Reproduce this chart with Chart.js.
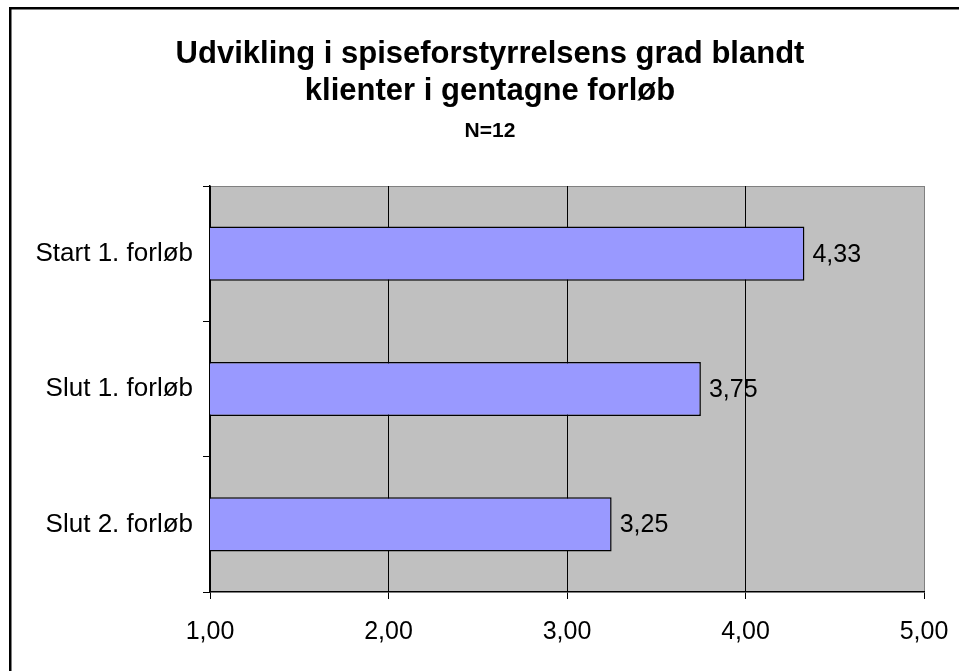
<!DOCTYPE html>
<html>
<head>
<meta charset="utf-8">
<script src="https://cdn.jsdelivr.net/npm/chart.js@4/dist/chart.umd.min.js"></script>
<style>
  body { margin: 0; background: #fff; }
  #wrap { width: 959px; height: 671px; }
</style>
</head>
<body>
<div id="wrap"><canvas id="myChart" width="959" height="671"></canvas></div>
<script>
var categories = ['Start 1. forløb', 'Slut 1. forløb', 'Slut 2. forløb'];
var values = [4.33, 3.75, 3.25];
var titleLines = ['Udvikling i spiseforstyrrelsens grad blandt', 'klienter i gentagne forløb'];
var subtitleText = 'N=12';
var xMin = 1, xMax = 5;

var FONT = '"Liberation Sans", Arial, sans-serif';

function fmt(v) {
    return v.toFixed(2).replace('.', ',');
}

// gray plot area + outer frame
var backdrop = {
    id: 'backdrop',
    beforeDraw: function (chart) {
        var c = chart.ctx, a = chart.chartArea;
        c.save();
        c.fillStyle = '#000';
        c.fillRect(9, 7, 2.5, chart.height);
        c.fillRect(9, 7, chart.width, 2.5);
        c.fillStyle = '#c0c0c0';
        c.fillRect(a.left, a.top, a.right - a.left, a.bottom - a.top);
        c.strokeStyle = '#808080';
        c.lineWidth = 1;
        c.beginPath();
        c.moveTo(a.left, a.top + 0.5);
        c.lineTo(a.right + 0.5, a.top + 0.5);
        c.lineTo(a.right + 0.5, a.bottom);
        c.stroke();
        c.restore();
    }
};

// title block, centred on the frame rather than the canvas
var titleBlock = {
    id: 'titleBlock',
    afterDraw: function (chart) {
        var c = chart.ctx;
        c.save();
        c.fillStyle = '#000';
        c.textAlign = 'center';
        c.textBaseline = 'alphabetic';
        c.font = 'bold 31px ' + FONT;
        c.fillText(titleLines[0], 490, 63);
        c.fillText(titleLines[1], 490, 100);
        c.font = 'bold 21px ' + FONT;
        c.fillText(subtitleText, 490, 137);
        c.restore();
    }
};

// value labels at bar ends
var valueLabels = {
    id: 'valueLabels',
    afterDatasetsDraw: function (chart) {
        var c = chart.ctx;
        var meta = chart.getDatasetMeta(0);
        c.save();
        c.font = '25px ' + FONT;
        c.fillStyle = '#000';
        c.textAlign = 'left';
        c.textBaseline = 'middle';
        meta.data.forEach(function (bar, i) {
            c.fillText(fmt(values[i]), bar.x + 8, bar.y + 1);
        });
        c.restore();
    }
};

var ctx = document.getElementById('myChart').getContext('2d');
var myChart = new Chart(ctx, {
    type: 'bar',
    data: {
        labels: categories,
        datasets: [{
            data: values,
            backgroundColor: '#9999ff',
            borderColor: '#000',
            borderWidth: 1.5,
            borderSkipped: false,
            barPercentage: 0.4,
            categoryPercentage: 1
        }]
    },
    options: {
        indexAxis: 'y',
        responsive: false,
        animation: false,
        layout: { padding: { left: 30, right: 35, top: 186, bottom: 0 } },
        scales: {
            x: {
                min: xMin,
                max: xMax,
                ticks: {
                    stepSize: 1,
                    color: '#000',
                    padding: 18,
                    font: { size: 25, family: FONT },
                    callback: function (v) { return fmt(v); }
                },
                grid: {
                    color: function (c) { return c.tick && c.tick.value === xMax ? '#808080' : '#000'; },
                    tickColor: '#000',
                    tickLength: 7,
                    lineWidth: 1
                },
                border: { color: '#000', width: 1.5 },
                afterFit: function (s) {
                    s.height = 79;
                    s.paddingLeft = 0;
                    s.paddingRight = 0;
                }
            },
            y: {
                ticks: {
                    color: '#000',
                    padding: 10,
                    font: { size: 26, family: FONT }
                },
                grid: {
                    drawOnChartArea: false,
                    color: '#000',
                    tickLength: 7
                },
                border: { color: '#000', width: 1.5 },
                afterFit: function (s) { s.width = 180; }
            }
        },
        plugins: {
            legend: { display: false },
            tooltip: { enabled: false },
            title: { display: false }
        }
    },
    plugins: [backdrop, titleBlock, valueLabels]
});
</script>
</body>
</html>
